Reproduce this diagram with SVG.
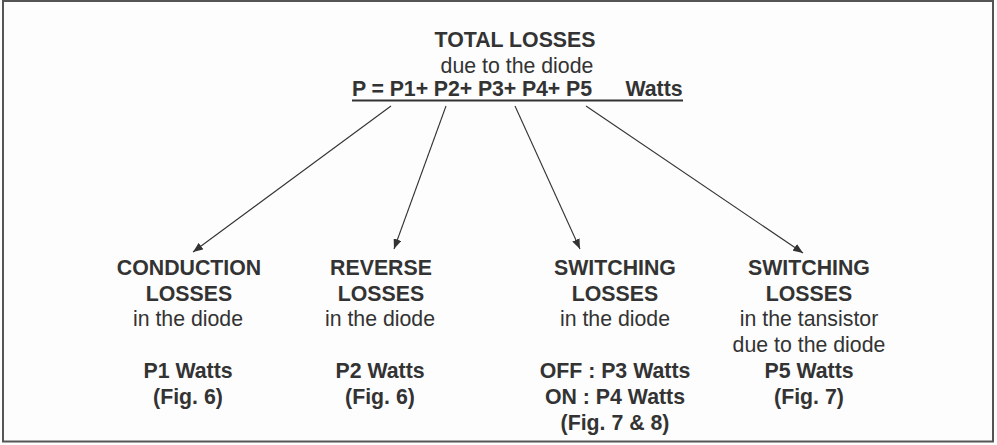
<svg xmlns="http://www.w3.org/2000/svg" width="997" height="445" viewBox="0 0 997 445">
  <defs>
    <marker id="ah" viewBox="0 0 10 8" refX="10" refY="4" markerWidth="10" markerHeight="8" markerUnits="userSpaceOnUse" orient="auto">
      <path d="M0,0 L10,4 L0,8 Z" fill="#333"/>
    </marker>
    <style>
      text { font-family: "Liberation Sans", Arial, Helvetica, sans-serif; font-size: 21.3px; fill: #333; text-anchor: middle; }
      .b { font-weight: bold; }
      .conn line { stroke: #333; stroke-width: 1.1; marker-end: url(#ah); }
    </style>
  </defs>
  <rect x="0" y="0" width="997" height="445" fill="#fdfdfd"/>
  <rect x="3" y="1" width="990" height="440.5" fill="none" stroke="#555" stroke-width="2"/>

  <g id="total">
    <text class="b" x="515" y="47">TOTAL LOSSES</text>
    <text x="517" y="73">due to the diode</text>
    <text class="b" x="472" y="96" textLength="240" lengthAdjust="spacing">P = P1+ P2+ P3+ P4+ P5</text>
    <text class="b" x="654" y="96">Watts</text>
    <line x1="352" y1="100.5" x2="683" y2="100.5" stroke="#333" stroke-width="1.8"/>
  </g>

  <g class="conn" id="connectors">
    <line x1="391" y1="106" x2="193" y2="252"/>
    <line x1="446" y1="106" x2="394" y2="249"/>
    <line x1="515" y1="106" x2="580" y2="249"/>
    <line x1="586" y1="106" x2="803" y2="253"/>
  </g>

  <g id="conduction">
    <text class="b" x="189" y="275">CONDUCTION</text>
    <text class="b" x="189" y="301">LOSSES</text>
    <text x="188" y="326">in the diode</text>
    <text class="b" x="188" y="378">P1 Watts</text>
    <text class="b" x="188" y="404">(Fig. 6)</text>
  </g>

  <g id="reverse">
    <text class="b" x="381" y="275">REVERSE</text>
    <text class="b" x="381" y="301">LOSSES</text>
    <text x="380" y="326">in the diode</text>
    <text class="b" x="380" y="378">P2 Watts</text>
    <text class="b" x="380" y="404">(Fig. 6)</text>
  </g>

  <g id="switching-diode">
    <text class="b" x="615" y="275">SWITCHING</text>
    <text class="b" x="615" y="301">LOSSES</text>
    <text x="615" y="326">in the diode</text>
    <text class="b" x="615" y="378">OFF : P3 Watts</text>
    <text class="b" x="615" y="404">ON : P4 Watts</text>
    <text class="b" x="615" y="430">(Fig. 7 &amp; 8)</text>
  </g>

  <g id="switching-transistor">
    <text class="b" x="809" y="275">SWITCHING</text>
    <text class="b" x="809" y="301">LOSSES</text>
    <text x="809" y="326">in the tansistor</text>
    <text x="809" y="352">due to the diode</text>
    <text class="b" x="809" y="378">P5 Watts</text>
    <text class="b" x="809" y="404">(Fig. 7)</text>
  </g>
</svg>
